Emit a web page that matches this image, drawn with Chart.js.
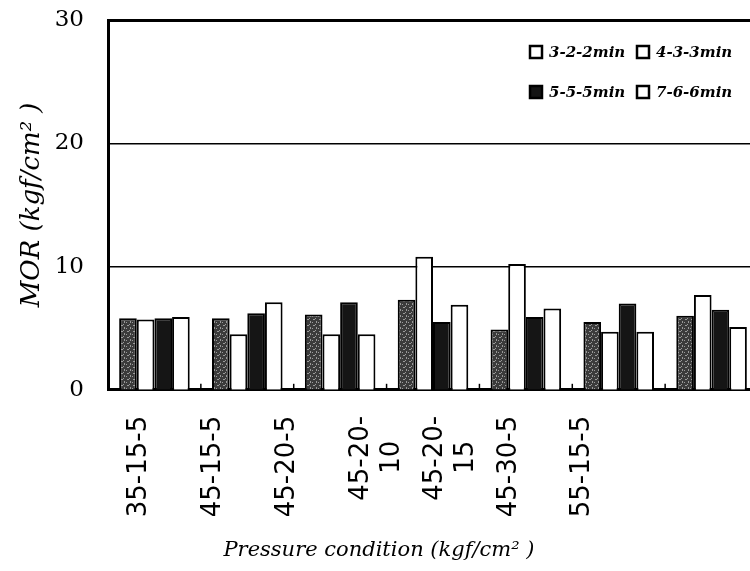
<!DOCTYPE html>
<html>
<head>
<meta charset="utf-8">
<title>MOR by pressure condition</title>
<script src="https://cdn.jsdelivr.net/npm/chart.js@4.4.0/dist/chart.umd.min.js"></script>
<style>
  html, body { margin: 0; padding: 0; background: #fff; overflow: hidden; }
  #wrap { width: 760px; height: 571px; }
</style>
</head>
<body>
<div id="wrap"><canvas id="morChart" width="760" height="571"></canvas></div>
<script>
// pressure conditions (kgf/cm2) and pressing schedules
const conditions = ['35-15-5', '45-15-5', '45-20-5', ['45-20-', '10'], ['45-20-', '15'], '45-30-5', '55-15-5'];
const schedules = ['3-2-2min', '4-3-3min', '5-5-5min', '7-6-6min'];

// MOR values, kgf/cm2
const mor322 = [5.8, 5.8, 6.1, 7.3, 4.9, 5.5, 6.0];
const mor433 = [5.7, 4.5, 4.5, 10.8, 10.2, 4.7, 7.7];
const mor555 = [5.8, 6.2, 7.1, 5.5, 5.9, 7.0, 6.5];
const mor766 = [5.9, 7.1, 4.5, 6.9, 6.6, 4.7, 5.1];

const yTicks = [0, 10, 20, 30];

// speckled dark fill for the first schedule
function speckle() {
    const pc = document.createElement('canvas');
    pc.width = 6;
    pc.height = 6;
    const g = pc.getContext('2d');
    g.fillStyle = '#3b3b3b';
    g.fillRect(0, 0, 6, 6);
    g.fillStyle = '#9a9a9a';
    g.fillRect(1, 1, 2, 1);
    g.fillRect(4, 3, 1, 2);
    g.fillRect(0, 4, 1, 1);
    g.fillRect(3, 0, 1, 1);
    return g.createPattern(pc, 'repeat');
}

// small upward marks between groups on the x axis
const groupTicks = {
    id: 'groupTicks',
    afterDatasetsDraw(chart) {
        const x = chart.scales.x;
        const y = chart.scales.y;
        const ctx = chart.ctx;
        ctx.save();
        ctx.strokeStyle = '#000';
        ctx.lineWidth = 1.5;
        for (let i = 1; i < conditions.length; i++) {
            const px = (x.getPixelForValue(i - 1) + x.getPixelForValue(i)) / 2;
            ctx.beginPath();
            ctx.moveTo(px, y.bottom);
            ctx.lineTo(px, y.bottom - 6);
            ctx.stroke();
        }
        ctx.restore();
    }
};

// two-column legend drawn inside the plot, top right
const boxLegend = {
    id: 'boxLegend',
    afterDraw(chart, args, opts) {
        const { ctx, chartArea } = chart;
        ctx.save();
        ctx.font = 'italic bold 15px "DejaVu Serif"';
        ctx.textBaseline = 'middle';
        chart.data.datasets.forEach((ds, i) => {
            const col = i % 2;
            const row = Math.floor(i / 2);
            const bx = chartArea.left + 422 + col * 107;
            const by = chartArea.top + 32 + row * 40;
            ctx.fillStyle = opts.fills[i];
            ctx.fillRect(bx, by - 6, 12, 12);
            ctx.lineWidth = 2.5;
            ctx.strokeStyle = '#000';
            ctx.strokeRect(bx, by - 6, 12, 12);
            ctx.fillStyle = '#000';
            ctx.fillText(ds.label, bx + 19, by + 1);
        });
        ctx.restore();
    }
};

const barStyle = {
    borderColor: '#000',
    borderWidth: 2,
    categoryPercentage: 0.76,
    barPercentage: 1.0
};

new Chart(document.getElementById('morChart'), {
    type: 'bar',
    data: {
        labels: conditions.map(c => Array.isArray(c) ? c.join('') : c),
        datasets: [
            { label: schedules[0], data: mor322, backgroundColor: speckle(), ...barStyle },
            { label: schedules[1], data: mor433, backgroundColor: '#fff', ...barStyle },
            { label: schedules[2], data: mor555, backgroundColor: '#151515', ...barStyle },
            { label: schedules[3], data: mor766, backgroundColor: '#fff', ...barStyle }
        ]
    },
    plugins: [groupTicks, boxLegend],
    options: {
        responsive: false,
        animation: false,
        layout: { padding: { top: 20, right: 2, left: 0, bottom: 0 } },
        plugins: {
            legend: { display: false },
            tooltip: { enabled: false },
            boxLegend: { fills: ['#fff', '#fff', '#151515', '#fff'] },
            title: {
                display: true,
                position: 'bottom',
                text: 'Pressure condition (kgf/cm² )',
                color: '#000',
                font: { family: 'DejaVu Serif', style: 'italic', weight: 'normal', size: 21 },
                padding: { top: 4, bottom: 8 }
            }
        },
        scales: {
            x: {
                grid: { display: false, drawTicks: false },
                border: { display: true, color: '#000', width: 3 },
                ticks: { display: false }
            },
            // label axis for the rotated condition names
            xl: {
                type: 'linear',
                position: 'bottom',
                offset: false,
                min: -0.42,
                max: 8.37,
                afterBuildTicks: (scale) => {
                    scale.ticks = conditions.map((c, i) => ({ value: i }));
                },
                afterFit: (scale) => { scale.height = 144; },
                grid: { display: false, drawTicks: false },
                border: { display: false },
                ticks: {
                    autoSkip: false,
                    minRotation: 90,
                    maxRotation: 90,
                    padding: 26,
                    color: '#000',
                    font: { family: 'DejaVu Sans', size: 26 },
                    // wrapped names: nudge the short second line toward the middle
                    callback: (value, index) => {
                        const c = conditions[index];
                        return Array.isArray(c) ? [c[0], c[1] + '   '] : c;
                    }
                }
            },
            y: {
                min: 0,
                max: 30,
                afterBuildTicks: (scale) => {
                    scale.ticks = yTicks.map(v => ({ value: v }));
                },
                afterFit: (scale) => {
                    scale.width = 108;
                    // the "30" label may sit above the plot frame
                    scale.paddingTop = 0;
                    scale.paddingBottom = 0;
                },
                border: { display: true, color: '#000', width: 3 },
                grid: {
                    color: '#000',
                    drawTicks: false,
                    lineWidth: (ctx) => ctx.tick.value === 30 ? 3 : (ctx.tick.value === 0 ? 0 : 1.5)
                },
                ticks: {
                    color: '#000',
                    padding: 24,
                    font: { family: 'DejaVu Serif', size: 23 }
                },
                title: {
                    display: true,
                    text: 'MOR (kgf/cm² )',
                    color: '#000',
                    font: { family: 'DejaVu Serif', style: 'italic', size: 26 },
                    padding: { top: 17 }
                }
            }
        }
    }
});
</script>
</body>
</html>
